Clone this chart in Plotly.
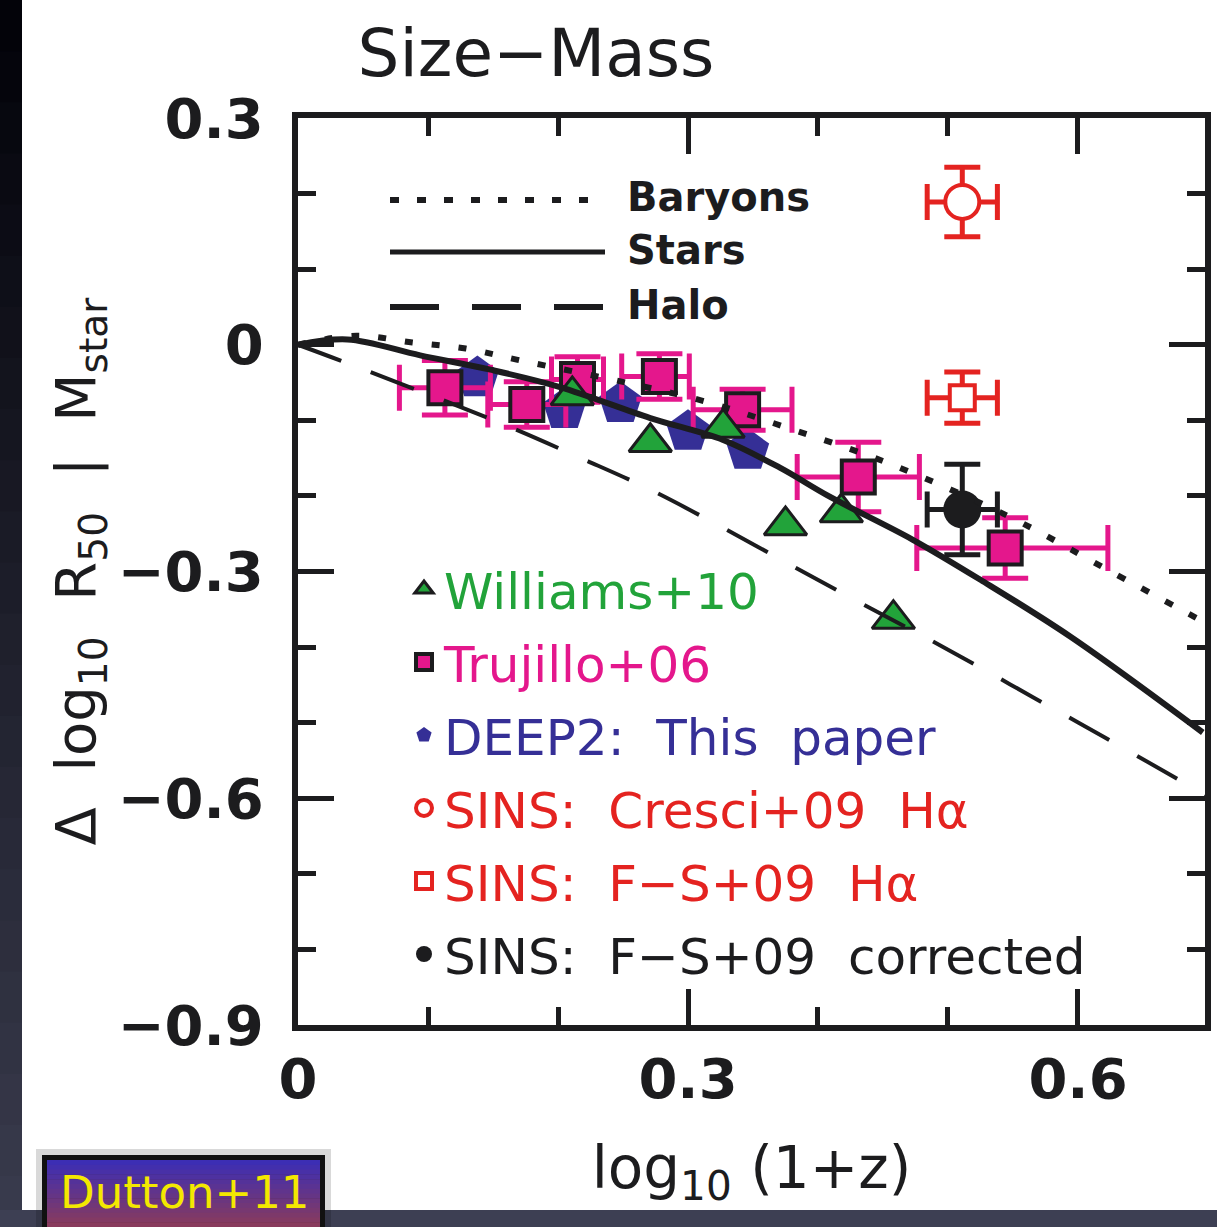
import plotly.graph_objects as go
import numpy as np

# ---------------- data ----------------
# model curves
stars_x = [0.0, 0.038, 0.094, 0.148, 0.2015, 0.271, 0.327, 0.371, 0.409, 0.473, 0.525, 0.594, 0.696]
stars_y = [0.0, 0.007, -0.014, -0.033, -0.056, -0.097, -0.126, -0.163, -0.201, -0.258, -0.311, -0.386, -0.513]

bary_x = [0.0, 0.045, 0.088, 0.129, 0.169, 0.252, 0.313, 0.375, 0.453, 0.549, 0.623, 0.696]
bary_y = [0.0, 0.012, 0.003, -0.005, -0.020, -0.050, -0.075, -0.109, -0.156, -0.229, -0.298, -0.366]

halo_x = [0.0, 0.035, 0.157, 0.217, 0.276, 0.417, 0.507, 0.565, 0.621, 0.677, 0.698]
halo_y = [0.0, -0.0225, -0.1045, -0.1495, -0.196, -0.327, -0.410, -0.466, -0.520, -0.575, -0.596]

# Williams+10 (triangles)
will_x = [0.211, 0.271, 0.327, 0.375, 0.418, 0.458]
will_y = [-0.067, -0.129, -0.110, -0.239, -0.222, -0.363]

# Trujillo+06 (squares) with errors
tru_x = [0.113, 0.176, 0.215, 0.278, 0.342, 0.431, 0.544]
tru_y = [-0.057, -0.079, -0.046, -0.042, -0.086, -0.175, -0.269]
tru_xerr_minus = [0.035, 0.030, 0.020, 0.029, 0.038, 0.047, 0.068]
tru_xerr_plus = [0.035, 0.030, 0.020, 0.023, 0.038, 0.047, 0.079]
tru_yerr = [0.036, 0.030, 0.030, 0.030, 0.027, 0.046, 0.040]

# DEEP2 (pentagons)
deep_x = [0.138, 0.205, 0.248, 0.300, 0.346]
deep_y = [-0.044, -0.086, -0.078, -0.115, -0.140]

# SINS
cresci_x, cresci_y, cresci_xerr, cresci_yerr = [0.511], [0.189], [0.027], [0.046]
fs_x, fs_y, fs_xerr, fs_yerr = [0.511], [-0.070], [0.027], [0.034]
fsc_x, fsc_y, fsc_xerr, fsc_yerr = [0.511], [-0.218], [0.027], [0.060]

# axis ticks
x_tickvals = [0, 0.3, 0.6]
x_ticktext = ["0", "0.3", "0.6"]
y_tickvals = [0.3, 0, -0.3, -0.6, -0.9]
y_ticktext = ["0.3", "0", "\u22120.3", "\u22120.6", "\u22120.9"]

legend_names = ["Williams+10", "Trujillo+06", "DEEP2:\u00a0 This\u00a0 paper",
                "SINS:\u00a0 Cresci+09\u00a0 H\u03b1", "SINS:\u00a0 F\u2212S+09\u00a0 H\u03b1",
                "SINS:\u00a0 F\u2212S+09\u00a0 corrected"]
line_names = ["Baryons", "Stars", "Halo"]

# ---------------- styling ----------------
W, H = 1217, 1227
L, R, T, B = 298, 1205, 118, 1025
PW, PH = R - L, B - T
BLACK = "#1c1c1e"
GREEN = "#22a33a"
PINK = "#e4178c"
BLUE = "#352f96"
RED = "#e42320"
FONT = "DejaVu Sans"


def fx(px):
    return (px - L) / PW


def fy(py):
    return (B - py) / PH


def col(name, c):
    return "<span style='color:%s'>%s</span>" % (c, name)


fig = go.Figure()

# DEEP2 pentagons
fig.add_trace(go.Scatter(
    x=deep_x, y=deep_y, mode="markers", name=col(legend_names[2], BLUE),
    legendrank=3, legendgroup="c",
    marker=dict(symbol="pentagon", size=45, color=BLUE, line=dict(width=0))))

# Trujillo squares
fig.add_trace(go.Scatter(
    x=tru_x, y=tru_y, mode="markers", name=col(legend_names[1], PINK),
    legendrank=2, legendgroup="b",
    error_x=dict(type="data", symmetric=False, array=tru_xerr_plus, arrayminus=tru_xerr_minus,
                 color=PINK, thickness=5, width=23),
    error_y=dict(type="data", array=tru_yerr, color=PINK, thickness=5, width=23),
    marker=dict(symbol="square", size=33, color=PINK, line=dict(color=BLACK, width=4))))

# Williams triangles
fig.add_trace(go.Scatter(
    x=will_x, y=will_y, mode="markers", name=col(legend_names[0], GREEN),
    legendrank=1, legendgroup="a",
    marker=dict(symbol="triangle-up", size=37, color=GREEN, line=dict(color=BLACK, width=3))))

# SINS points
fig.add_trace(go.Scatter(
    x=cresci_x, y=cresci_y, mode="markers", name=col(legend_names[3], RED),
    legendrank=4, legendgroup="d",
    error_x=dict(type="data", array=cresci_xerr, color=RED, thickness=5, width=18),
    error_y=dict(type="data", array=cresci_yerr, color=RED, thickness=5, width=18),
    marker=dict(symbol="circle", size=34, color="white", line=dict(color=RED, width=4))))
fig.add_trace(go.Scatter(
    x=fs_x, y=fs_y, mode="markers", name=col(legend_names[4], RED),
    legendrank=5, legendgroup="e",
    error_x=dict(type="data", array=fs_xerr, color=RED, thickness=5, width=18),
    error_y=dict(type="data", array=fs_yerr, color=RED, thickness=5, width=18),
    marker=dict(symbol="square", size=25, color="white", line=dict(color=RED, width=4))))
fig.add_trace(go.Scatter(
    x=fsc_x, y=fsc_y, mode="markers", name=col(legend_names[5], BLACK),
    legendrank=6, legendgroup="f",
    error_x=dict(type="data", array=fsc_xerr, color=BLACK, thickness=5, width=18),
    error_y=dict(type="data", array=fsc_yerr, color=BLACK, thickness=5, width=18),
    marker=dict(symbol="circle", size=38, color=BLACK, line=dict(width=0))))

# model curves (drawn on top)
fig.add_trace(go.Scatter(x=bary_x, y=bary_y, mode="lines", name=line_names[0], showlegend=False,
                         line=dict(color=BLACK, width=6, dash="8px,19px", shape="spline")))
fig.add_trace(go.Scatter(x=stars_x, y=stars_y, mode="lines", name=line_names[1], showlegend=False,
                         line=dict(color=BLACK, width=6, shape="spline")))
fig.add_trace(go.Scatter(x=halo_x, y=halo_y, mode="lines", name=line_names[2], showlegend=False,
                         line=dict(color=BLACK, width=4, dash="46px,32px", shape="spline")))

# ---------------- background decoration ----------------
shapes = []
# left dark gradient strip
n = 24
c_top = np.array([2, 2, 8])
c_bot = np.array([58, 60, 78])
for i in range(n):
    t0, t1 = i / n, (i + 1) / n
    c = (c_top + (c_bot - c_top) * (t0 + t1) / 2).astype(int)
    shapes.append(dict(type="rect", xref="paper", yref="paper", layer="above",
                       x0=fx(0), x1=fx(22), y0=fy(H * t1 + 1), y1=fy(H * t0),
                       fillcolor="rgb(%d,%d,%d)" % tuple(c), line=dict(width=0)))
# bottom strip
shapes.append(dict(type="rect", xref="paper", yref="paper", layer="above",
                   x0=fx(0), x1=fx(W), y0=fy(H), y1=fy(1210),
                   fillcolor="#3d3f53", line=dict(width=0)))
# Dutton box: shadow, border, gradient
shapes.append(dict(type="rect", xref="paper", yref="paper", layer="above",
                   x0=fx(36), x1=fx(331), y0=fy(H), y1=fy(1149),
                   fillcolor="rgba(0,0,0,0.15)", line=dict(width=0)))
shapes.append(dict(type="rect", xref="paper", yref="paper", layer="above",
                   x0=fx(42), x1=fx(325), y0=fy(H), y1=fy(1155),
                   fillcolor="#111111", line=dict(width=0)))
g_top = np.array([58, 46, 184])
g_bot = np.array([140, 60, 90])
m = 14
for i in range(m):
    t0, t1 = i / m, (i + 1) / m
    c = (g_top + (g_bot - g_top) * (t0 + t1) / 2).astype(int)
    y_top = 1160 + (H - 1160) * t0
    y_bot = 1160 + (H - 1160) * t1 + 0.5
    shapes.append(dict(type="rect", xref="paper", yref="paper", layer="above",
                       x0=fx(47), x1=fx(320), y0=fy(y_bot), y1=fy(y_top),
                       fillcolor="rgb(%d,%d,%d)" % tuple(c), line=dict(width=0)))

# line-legend keys
shapes.append(dict(type="line", xref="paper", yref="paper", x0=fx(390), x1=fx(596), y0=fy(200), y1=fy(200),
                   line=dict(color=BLACK, width=6, dash="9px,18px")))
shapes.append(dict(type="line", xref="paper", yref="paper", x0=fx(390), x1=fx(605), y0=fy(252), y1=fy(252),
                   line=dict(color=BLACK, width=5)))
shapes.append(dict(type="line", xref="paper", yref="paper", x0=fx(390), x1=fx(605), y0=fy(307), y1=fy(307),
                   line=dict(color=BLACK, width=6, dash="49px,33px")))

annotations = []
for name, py in zip(line_names, [197, 250, 305]):
    annotations.append(dict(text=name, xref="paper", yref="paper", x=fx(625), y=fy(py),
                            xanchor="left", yanchor="middle", showarrow=False,
                            font=dict(family=FONT, size=40, color=BLACK, weight="bold")))
# Dutton label
annotations.append(dict(text="Dutton+11", xref="paper", yref="paper", x=fx(184), y=fy(1192),
                        xanchor="center", yanchor="middle", showarrow=False,
                        font=dict(family=FONT, size=45, color="#f4e800")))

axis_common = dict(
    showline=True, linewidth=6, linecolor=BLACK, mirror="ticks",
    ticks="inside", ticklen=36, tickwidth=5, tickcolor=BLACK,
    showgrid=False, zeroline=False, automargin=False,
    tickfont=dict(family=FONT, size=56, color=BLACK, weight="bold"),
    minor=dict(ticks="inside", ticklen=18, tickwidth=5, tickcolor=BLACK, dtick=0.1, tick0=0, showgrid=False),
)

fig.update_layout(
    width=W, height=H,
    margin=dict(l=L, r=W - R, t=T, b=H - B, pad=0),
    paper_bgcolor="white", plot_bgcolor="white",
    title=dict(text="Size\u2212Mass", xref="paper", yref="container", x=fx(536), y=1 - 53 / H,
               xanchor="center", yanchor="middle",
               font=dict(family=FONT, size=66, color=BLACK)),
    xaxis=dict(range=[0, 0.6977], tickmode="array", tickvals=x_tickvals, ticktext=x_ticktext,
               title=dict(text="log<sub>10</sub> (1+z)", standoff=39,
                          font=dict(family=FONT, size=58, color=BLACK)),
               **axis_common),
    yaxis=dict(range=[-0.9, 0.3], tickmode="array", tickvals=y_tickvals, ticktext=y_ticktext,
               ticklabelstandoff=17,
               title=dict(text="\u0394\u00a0 log<sub>10</sub>\u00a0 R<sub>50</sub>\u00a0 |\u00a0 M<sub>star</sub>",
                          standoff=6, font=dict(family=FONT, size=56, color=BLACK)),
               **axis_common),
    showlegend=True,
    legend=dict(x=fx(404), y=fy(550), xanchor="left", yanchor="top",
                bgcolor="rgba(0,0,0,0)", borderwidth=0,
                font=dict(family=FONT, size=50, color=BLACK),
                itemsizing="trace", tracegroupgap=5, traceorder="grouped"),
    shapes=shapes, annotations=annotations,
)

fig.write_html("out.html")
